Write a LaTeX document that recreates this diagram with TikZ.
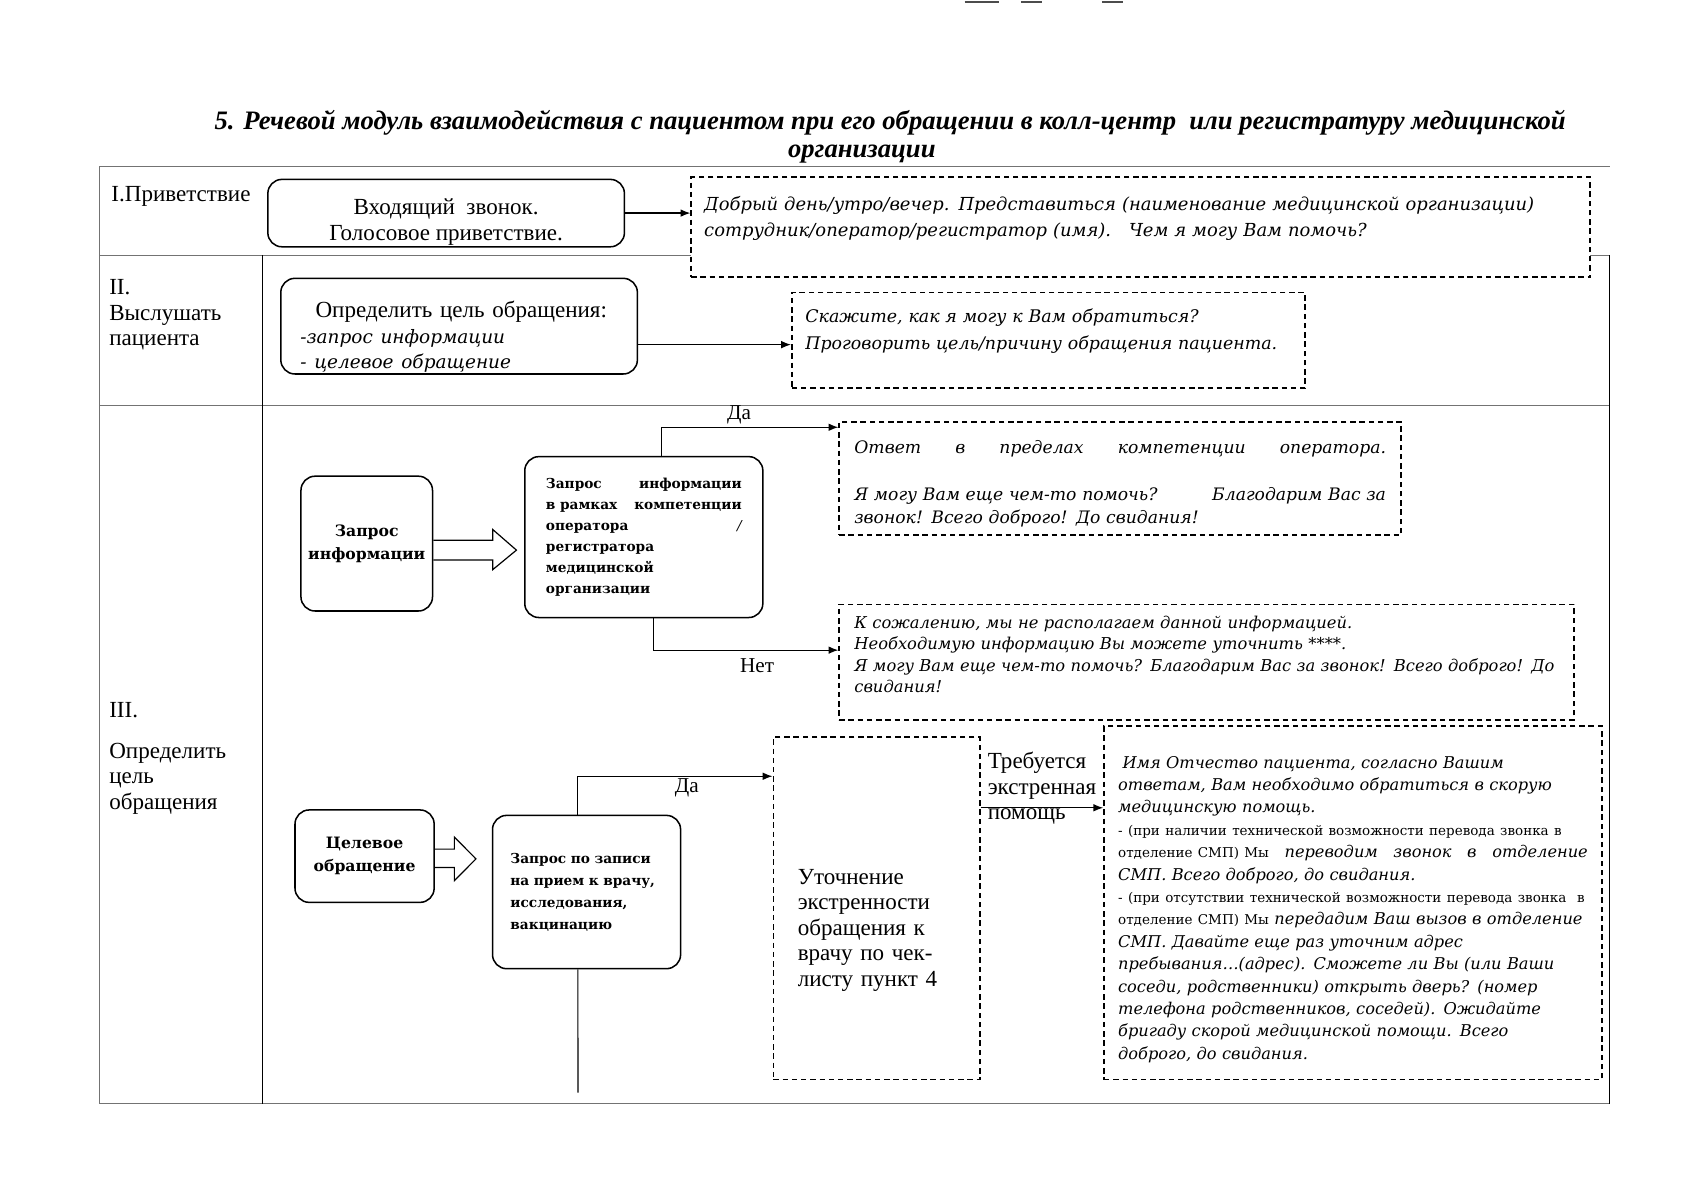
\documentclass[tikz,border=0pt]{standalone}
\usepackage{fontspec}
\setmainfont{Liberation Serif}
\newfontfamily\bkm{DejaVu Serif}
\usetikzlibrary{arrows.meta,calc}

\newcommand{\itq}{\bkm\itshape}
\newcommand{\smp}{\bkm\upshape\fontsize{12.4}{20.6}\selectfont}

\begin{document}
\begin{tikzpicture}[
    x=0.9936pt, y=-1pt,
    rbox/.style={draw, line width=1.4pt, rounded corners=13pt, inner sep=0pt},
    dbox/.style={draw, fill=white, line width=1.5pt, dash pattern=on 5pt off 3.5pt, inner sep=0pt},
    link/.style={draw, line width=1.1pt, -{Latex[length=9pt,width=7pt]}},
    fat/.style={draw, line width=1.1pt, line join=miter},
    lane/.style={draw=black!55, line width=1pt},
    plaintxt/.style={inner sep=0pt, font=\fontsize{21.2}{23.5}\selectfont},
    yesno/.style={inner sep=2pt, font=\fontsize{19.5}{22}\selectfont},
    speech/.style={font=\itq\fontsize{16.5}{24}\selectfont},
    boldtxt/.style={font=\bkm\bfseries\fontsize{12.6}{19.4}\selectfont}
]
\useasboundingbox (0,0) rectangle (1570.05,1104);

% marks left at the top of the scan
\draw[line width=2pt, black!70] (893,2) -- (925,2) (945,2) -- (965,2) (1020,2) -- (1040,2);

% title
\node[font=\bfseries\itshape\fontsize{24.5}{26}\selectfont, align=center] (title) at (824,126)
    {5. Речевой модуль взаимодействия с пациентом при его обращении в колл-центр\ \ или регистратуру медицинской\\ организации\hspace*{52pt}};

% table
\draw[lane] (92,1015) -- (92,153) -- (1490,153);
\draw[lane] (92,235) -- (1490,235);
\draw[lane] (92,373) -- (1490,373);
\draw[lane] (92,1015) -- (1490,1015);
\draw[line width=1.3pt] (243,235) -- (243,1015);
\draw[line width=1.3pt] (1490,235) -- (1490,1015);

% lane titles
\node[plaintxt, anchor=west] (lane1) at (103,181) {I.Приветствие};
\node[plaintxt, anchor=north west, align=left] (lane2) at (101,257) {II.\\Выслушать\\пациента};
\node[plaintxt, anchor=north west, align=left] (lane3) at (101,646) {III.\\[14pt]Определить\\цель\\обращения};

% I. greeting
\node[rbox, plaintxt, minimum width=328pt, minimum height=62pt, align=center] (greet) at (413,196)
    {\rule{0pt}{31pt}Входящий\ \ звонок.\\Голосовое приветствие.};
\node[dbox, speech, minimum width=827pt, minimum height=92pt, text width=803pt, align=left] (greettxt) at (1056,209)
    {Добрый день/утро/вечер. Представиться (наименование медицинской организации)\\
     сотрудник/оператор/регистратор (имя).\ \ \ Чем я могу Вам помочь?\rule[-20pt]{0pt}{20pt}};

% II. listen
\node[rbox, plaintxt, minimum width=328pt, minimum height=88pt, text width=292pt, align=left] (goal) at (425,300)
    {\rule{0pt}{35pt}\hspace*{14pt}Определить цель обращения:\\
     {\itq\fontsize{17}{23.5}\selectfont -запрос информации}\\
     {\itq\fontsize{17}{23.5}\selectfont - целевое обращение}};
\node[dbox, speech, font=\itq\fontsize{16}{25}\selectfont, minimum width=472pt, minimum height=88pt, text width=447pt, align=left] (askname) at (970.5,313)
    {Скажите, как я могу к Вам обратиться?\\Проговорить цель/причину обращения пациента.\rule[-20pt]{0pt}{20pt}};

% III. information request
\node[rbox, font=\bkm\bfseries\fontsize{14.4}{21}\selectfont, minimum width=121pt, minimum height=124pt, text width=117pt, align=center] (inforeq) at (339.5,500)
    {Запрос\\информации};
\node[rbox, boldtxt, minimum width=219pt, minimum height=148pt, text width=180pt, align=left] (infocomp) at (596,494)
    {Запрос \hfill информации\\
     в рамках \hfill компетенции\\
     оператора \hfill {\mdseries\itshape /}\\
     регистратора\\
     медицинской\\
     организации};
\node[dbox, speech, font=\itq\fontsize{15.8}{21.5}\selectfont, minimum width=517pt, minimum height=104pt, text width=489pt, align=left] (answer) at (1037,440)
    {\rule{0pt}{22pt}Ответ \hfill в \hfill пределах \hfill компетенции \hfill оператора.\\[21.5pt]
     Я могу Вам еще чем-то помочь? \hfill Благодарим Вас за\\
     звонок! Всего доброго! До свидания!};
\node[dbox, speech, font=\itq\fontsize{15}{19.7}\selectfont, minimum width=676pt, minimum height=106pt, text width=648pt, align=left] (noinfo) at (1117,609)
    {К сожалению, мы не располагаем данной информацией.\\
     Необходимую информацию Вы можете уточнить ****.\\
     Я могу Вам еще чем-то помочь? Благодарим Вас за звонок! Всего доброго! До\\
     свидания!\rule[-14pt]{0pt}{14pt}};

% III. target request
\node[rbox, font=\bkm\bfseries\fontsize{14.4}{21}\selectfont, minimum width=128pt, minimum height=85pt, text width=124pt, align=center] (target) at (337.5,787.5)
    {Целевое\\обращение};
\node[rbox, boldtxt, font=\bkm\bfseries\fontsize{12.6}{20.3}\selectfont, minimum width=173pt, minimum height=141pt, text width=140pt, align=left] (booking) at (543,820.5)
    {Запрос по записи\\на прием к врачу,\\исследования,\\вакцинацию};
\node[dbox, plaintxt, minimum width=190pt, minimum height=315pt, text width=145pt, align=left] (urgency) at (811.5,835.5)
    {\rule{0pt}{54pt}Уточнение\\экстренности\\обращения к\\врачу по чек-\\листу пункт 4};
\node[dbox, font=\itq\fontsize{14.9}{20.6}\selectfont, minimum width=458pt, minimum height=325pt, text width=432pt, align=left] (ambulance) at (1252.5,830.5)
    {\rule{0pt}{23pt}\hspace*{4pt}Имя Отчество пациента, согласно Вашим\\
     ответам, Вам необходимо обратиться в скорую\\
     медицинскую помощь.\\
     {\smp - (при наличии технической возможности перевода звонка в}\\
     {\smp отделение СМП) Мы} \hfill переводим \hfill звонок \hfill в \hfill отделение\\
     СМП. Всего доброго, до свидания.\\
     {\smp - (при отсутствии технической возможности перевода звонка\ \ в}\\
     {\smp отделение СМП) Мы} передадим Ваш вызов в отделение\\
     СМП. Давайте еще раз уточним адрес\\
     пребывания\ldots(адрес). Сможете ли Вы (или Ваши\\
     соседи, родственники) открыть дверь? (номер\\
     телефона родственников, соседей). Ожидайте\\
     бригаду скорой медицинской помощи. Всего\\
     доброго, до свидания.};

% connectors
\draw[link] (greet.east) -- (greet.east -| greettxt.west);
\draw[link] ([yshift=-17pt]goal.east) -- ([yshift=-17pt]goal.east -| askname.west);
\draw[fat, shift={(inforeq.east)}] (0,-3) -- (55,-3) -- (55,-13) -- (77,6) -- (55,24) -- (55,15) -- (0,15);
\draw[fat, shift={(target.east)}] (0,-6.5) -- (18,-6.5) -- (18,-17.5) -- (38,2.5) -- (18,22.5) -- (18,10.5) -- (0,10.5);
\draw[link] ([xshift=16pt]infocomp.north) |- ([yshift=47pt]answer.west) node[pos=0.72, above, yesno] {Да};
\draw[link] ([xshift=9pt]infocomp.south) |- ([yshift=11pt]noinfo.west) node[pos=0.78, below=5pt, yesno] {Нет};
\draw[link] ([xshift=-8pt]booking.north) |- ([yshift=121.5pt]urgency.west) node[pos=0.78, below, yesno] {Да};
\coordinate (tail) at (535,1005);
\draw[line width=1.1pt] ([xshift=-8pt]booking.south) -- (tail);
\draw[link] ([yshift=92.5pt]urgency.east) -- ([yshift=87.5pt]ambulance.west)
    node[midway, yshift=18pt, align=left, plaintxt] {Требуется\\экстренная\\помощь};

\end{tikzpicture}
\end{document}
